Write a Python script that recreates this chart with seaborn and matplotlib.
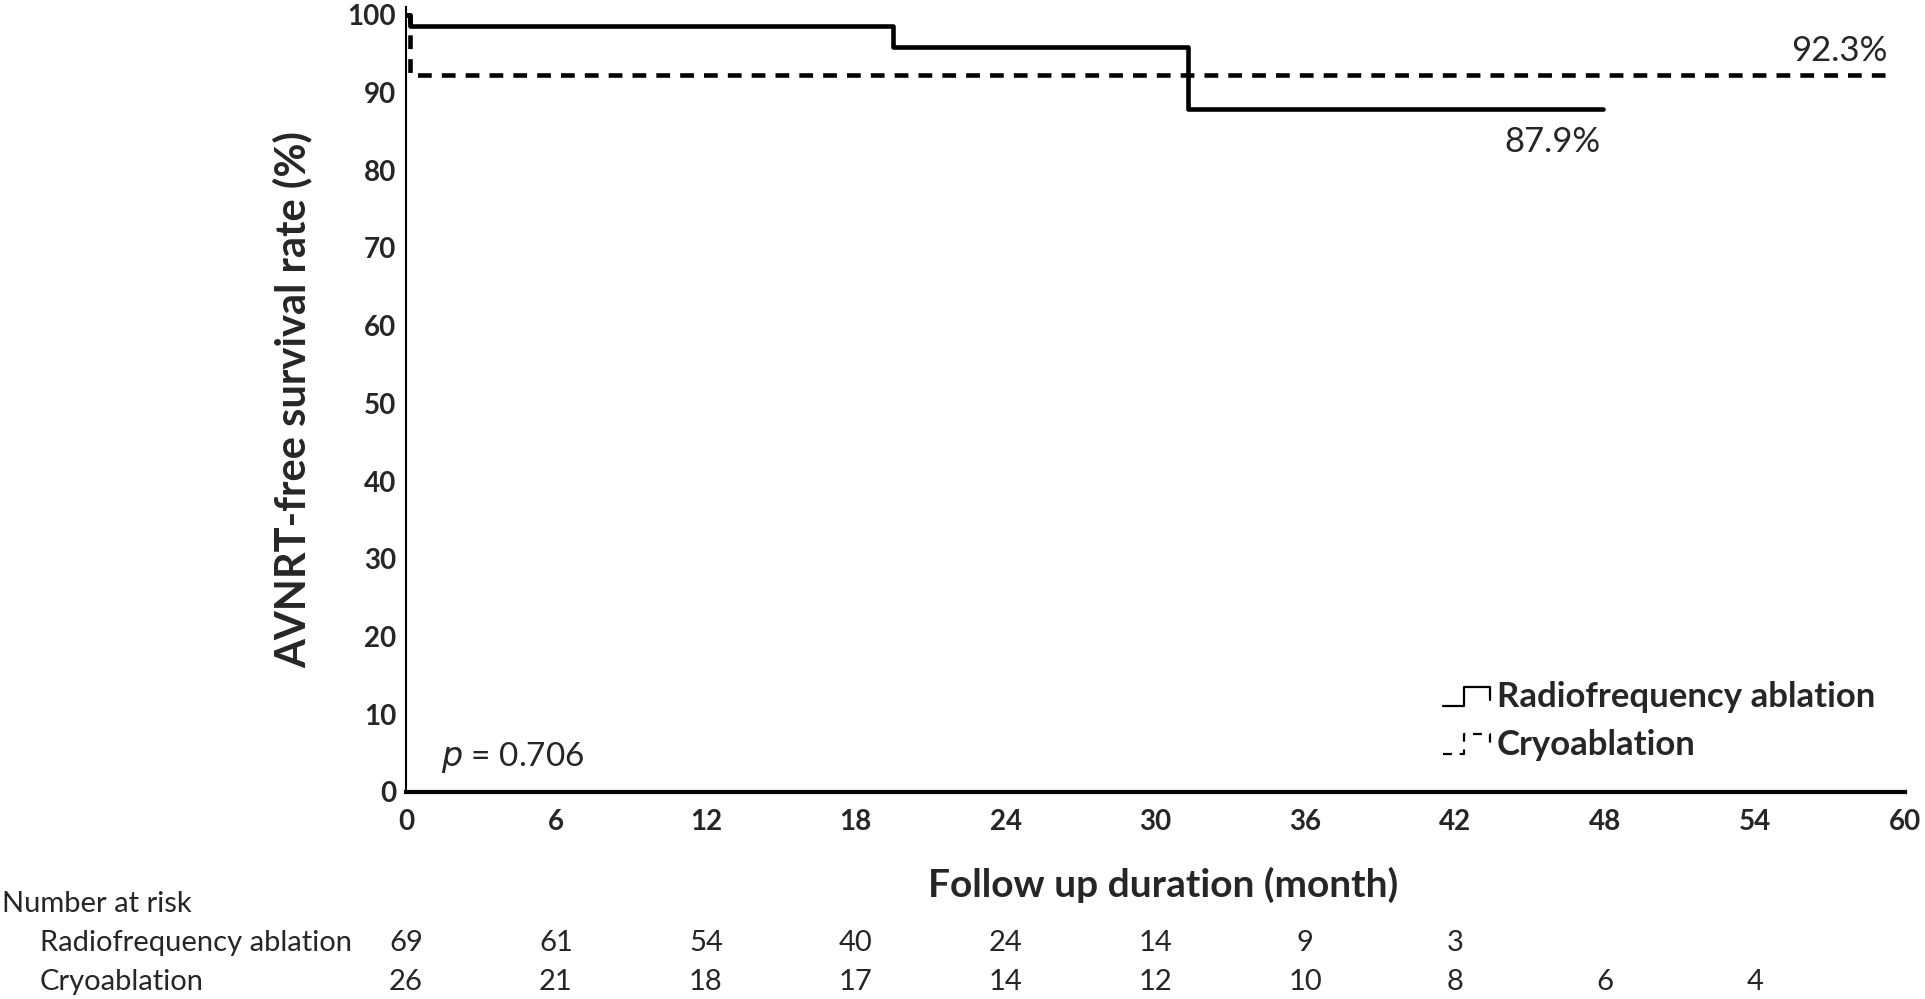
import matplotlib
matplotlib.use("Agg")
import matplotlib.pyplot as plt
import matplotlib.transforms as mtransforms
from matplotlib.legend_handler import HandlerBase
from matplotlib.lines import Line2D
import seaborn as sns
import pandas as pd

# ---- data ----
rf_time = [0, 0.15, 19.5, 31.3, 47.9]
rf_surv = [100, 98.6, 95.9, 87.9, 87.9]
cryo_time = [0, 0.15, 59.2]
cryo_surv = [100, 92.3, 92.3]
x_ticks = [0, 6, 12, 18, 24, 30, 36, 42, 48, 54, 60]
y_ticks = [0, 10, 20, 30, 40, 50, 60, 70, 80, 90, 100]
risk_rf = [69, 61, 54, 40, 24, 14, 9, 3]
risk_cryo = [26, 21, 18, 17, 14, 12, 10, 8, 6, 4]
group_names = ["Radiofrequency ablation", "Cryoablation"]

sns.set_theme(style="white")
plt.rcParams["font.family"] = ["Lato", "DejaVu Sans"]


class StepHandler(HandlerBase):
    def create_artists(self, legend, orig_handle, xdescent, ydescent,
                       width, height, fontsize, trans):
        x0 = -xdescent
        y0 = -ydescent
        xs = [x0, x0 + 0.45 * width, x0 + 0.45 * width, x0 + width, x0 + width]
        ys = [y0 + 0.05 * height, y0 + 0.05 * height, y0 + 0.85 * height,
              y0 + 0.85 * height, y0 + 0.3 * height]
        ln = Line2D(xs, ys, color="black", linewidth=1.6,
                    linestyle=orig_handle.get_linestyle())
        if orig_handle.get_linestyle() not in ("-", "solid"):
            ln.set_dashes([4, 3.5])
        ln.set_transform(trans)
        return [ln]


df = pd.concat([
    pd.DataFrame({"t": rf_time, "s": rf_surv, "g": group_names[0]}),
    pd.DataFrame({"t": cryo_time, "s": cryo_surv, "g": group_names[1]}),
])

fig = plt.figure(figsize=(19.25, 9.99), dpi=100)
ax = fig.add_axes([406/1925, 1-792/999, (1905-406)/1925, (792-7)/999])

sns.lineplot(data=df[df.g == group_names[0]], x="t", y="s", ax=ax, color="black",
             linewidth=3.3, drawstyle="steps-post", estimator=None, sort=False,
             legend=False)
sns.lineplot(data=df[df.g == group_names[1]], x="t", y="s", ax=ax, color="black",
             linewidth=3.3, drawstyle="steps-post", estimator=None, sort=False,
             legend=False)
ax.lines[1].set_dashes([3, 2.2])

ax.set_xlim(0, 60)
ax.set_ylim(0, 101)
ax.set_xticks(x_ticks)
ax.set_yticks(y_ticks)
ax.set_xticklabels([str(v) for v in x_ticks], fontsize=20, fontweight="bold")
ax.set_yticklabels([str(v) for v in y_ticks], fontsize=20, fontweight="bold")
ax.tick_params(axis="x", length=0, pad=12)
ax.tick_params(axis="y", length=0, pad=7)
ax.set_xlabel("")
ax.set_ylabel("AVNRT-free survival rate (%)", fontsize=30, fontweight="bold", labelpad=25)

for side in ["top", "right"]:
    ax.spines[side].set_visible(False)
ax.spines["left"].set_linewidth(1.5)
ax.spines["bottom"].set_linewidth(3)
ax.spines["left"].set_color("black")
ax.spines["bottom"].set_color("black")

# annotations
ax.text(59.3, 93.3, "92.3%", fontsize=25, ha="right", va="bottom")
ax.text(45.9, 83.6, "87.9%", fontsize=25, ha="center", va="center")
ax.text(1.4, 4.5, r"$p$ = 0.706", fontsize=24, ha="left", va="center")

h_rf = Line2D([], [], color="black", linestyle="-")
h_cr = Line2D([], [], color="black", linestyle="--")
leg = ax.legend([h_rf, h_cr], group_names, loc="upper left",
                bbox_to_anchor=(0.671, 0.181), frameon=False,
                handlelength=1.35, handletextpad=0.2, labelspacing=0.45,
                prop={"size": 25, "weight": "bold"},
                handler_map={Line2D: StepHandler()})

# x label
fig.text(1163/1925, 1-885/999, "Follow up duration (month)", fontsize=28,
         fontweight="bold", ha="center", va="center")

# number at risk table
trans = mtransforms.blended_transform_factory(ax.transData, fig.transFigure)
fig.text(2/1925, 1-904/999, "Number at risk", fontsize=21, ha="left", va="center")
fig.text(40/1925, 1-943/999, group_names[0], fontsize=21, ha="left", va="center")
fig.text(40/1925, 1-982/999, group_names[1], fontsize=21, ha="left", va="center")
for xv, n in zip(x_ticks, risk_rf):
    ax.text(xv, 1-943/999, str(n), transform=trans, fontsize=21, ha="center", va="center")
for xv, n in zip(x_ticks, risk_cryo):
    ax.text(xv, 1-982/999, str(n), transform=trans, fontsize=21, ha="center", va="center")

fig.savefig("out.png", dpi=100, facecolor="white")
